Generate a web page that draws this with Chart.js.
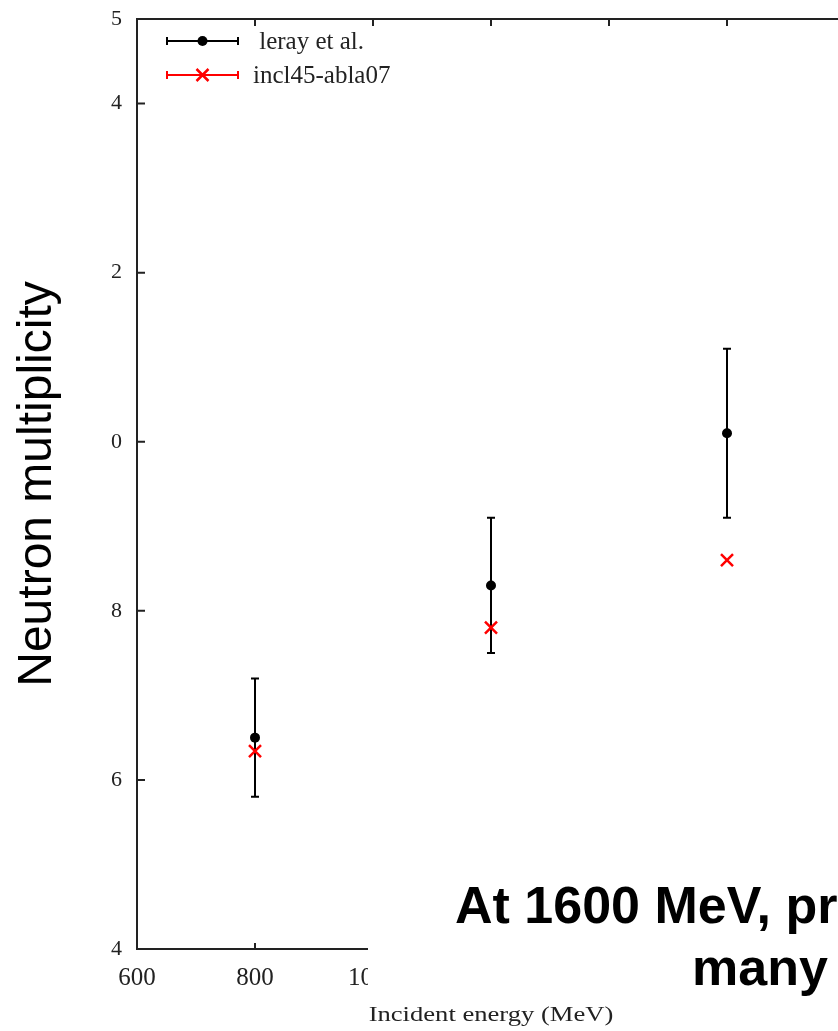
<!DOCTYPE html>
<html>
<head>
<meta charset="utf-8">
<script src="https://cdn.jsdelivr.net/npm/chart.js@4/dist/chart.umd.min.js"></script>
<style>
    html, body { margin: 0; padding: 0; overflow: hidden; background: #fff; }
    #wrap { position: relative; width: 900px; height: 1031px; }
    .note {
        position: absolute; left: 368px; top: 858px; width: 540px; height: 146px;
        background: #fff; color: #000;
        font: bold 52px 'Liberation Sans', Arial, sans-serif; line-height: 52px;
    }
    .note span { position: absolute; white-space: nowrap; }
    .note .l1 { left: 87px; top: 21px; }
    .note .l2 { left: 324px; top: 83px; }
</style>
</head>
<body>
<div id="wrap">
    <canvas id="chart"></canvas>
    <div class="note"><span class="l1">At 1600 MeV, pr</span><span class="l2">many</span></div>
</div>
<script>
// ===== Data =====
const energies = [800, 1200, 1600];
const lerayValues = [6.5, 8.3, 10.1];
const lerayErrors = [0.7, 0.8, 1.0];
const inclValues = [6.34, 7.8, 8.6];

const xTickValues = [600, 800, 1000, 1200, 1400, 1600, 1800];
const yTickValues = [4, 6, 8, 10, 12, 14, 15];
const yTickLabels = ['4', '6', '8', '0', '2', '4', '5'];

const seriesNames = [' leray et al.', 'incl45-abla07'];
const xTitle = 'Incident energy (MeV)';
const yTitle = 'Neutron multiplicity';

const SERIF = "'Liberation Serif', 'Times New Roman', serif";
const INK = '#222';

// ===== Plot frame, inner ticks, error bars and key =====
const framePlugin = {
    id: 'frame',

    // error bars go under the markers
    beforeDatasetsDraw(chart) {
        const { ctx, scales: { x, y } } = chart;
        ctx.save();
        ctx.strokeStyle = '#000';
        ctx.lineWidth = 2;
        energies.forEach((e, i) => {
            const px = x.getPixelForValue(e);
            const top = y.getPixelForValue(lerayValues[i] + lerayErrors[i]);
            const bot = y.getPixelForValue(lerayValues[i] - lerayErrors[i]);
            ctx.beginPath();
            ctx.moveTo(px, top); ctx.lineTo(px, bot);
            ctx.moveTo(px - 4, top); ctx.lineTo(px + 4, top);
            ctx.moveTo(px - 4, bot); ctx.lineTo(px + 4, bot);
            ctx.stroke();
        });
        ctx.restore();
    },

    afterDraw(chart) {
        const { ctx, chartArea: a, scales: { x, y } } = chart;
        ctx.save();

        // box round the plot
        ctx.strokeStyle = INK;
        ctx.lineWidth = 2;
        ctx.strokeRect(a.left, a.top, a.right - a.left, a.bottom - a.top);

        // ticks pointing inward; x ticks mirrored along the top
        ctx.beginPath();
        yTickValues.forEach(v => {
            const py = y.getPixelForValue(v);
            ctx.moveTo(a.left, py); ctx.lineTo(a.left + 8, py);
        });
        xTickValues.forEach(v => {
            const px = x.getPixelForValue(v);
            ctx.moveTo(px, a.bottom); ctx.lineTo(px, a.bottom - 6);
            ctx.moveTo(px, a.top); ctx.lineTo(px, a.top + 7);
        });
        ctx.stroke();

        // key, top left
        const kx0 = a.left + 30, kx1 = a.left + 101, kc = (kx0 + kx1) / 2;
        const rows = [a.top + 22, a.top + 56];
        const colors = ['#000', '#ff0000'];
        rows.forEach((ky, i) => {
            ctx.strokeStyle = colors[i];
            ctx.lineWidth = 2;
            ctx.beginPath();
            ctx.moveTo(kx0, ky); ctx.lineTo(kx1, ky);
            ctx.moveTo(kx0, ky - 4); ctx.lineTo(kx0, ky + 4);
            ctx.moveTo(kx1, ky - 4); ctx.lineTo(kx1, ky + 4);
            ctx.stroke();
            if (i === 0) {
                ctx.fillStyle = '#000';
                ctx.beginPath();
                ctx.arc(kc, ky, 5, 0, Math.PI * 2);
                ctx.fill();
            } else {
                ctx.lineWidth = 2.5;
                ctx.beginPath();
                ctx.moveTo(kc - 6, ky - 6); ctx.lineTo(kc + 6, ky + 6);
                ctx.moveTo(kc - 6, ky + 6); ctx.lineTo(kc + 6, ky - 6);
                ctx.stroke();
            }
            ctx.fillStyle = INK;
            ctx.font = '25px ' + SERIF;
            ctx.textBaseline = 'middle';
            ctx.textAlign = 'left';
            ctx.fillText(seriesNames[i], a.left + 116, ky + 1);
        });

        // x title, drawn a little wide
        ctx.translate((a.left + a.right) / 2, a.bottom + 72);
        ctx.scale(1.33, 1);
        ctx.fillStyle = INK;
        ctx.font = '20px ' + SERIF;
        ctx.textAlign = 'center';
        ctx.textBaseline = 'alphabetic';
        ctx.fillText(xTitle, 0, 0);

        ctx.restore();
    }
};

// label overhang is left to the layout padding
function noOverhang(s) {
    s.paddingTop = 0;
    s.paddingBottom = 0;
    s.paddingLeft = 0;
    s.paddingRight = 0;
}

const chart = new Chart(document.getElementById('chart'), {
    type: 'scatter',
    data: {
        datasets: [
            {
                label: seriesNames[0],
                data: energies.map((e, i) => ({ x: e, y: lerayValues[i] })),
                pointStyle: 'circle',
                pointRadius: 5,
                backgroundColor: '#000',
                borderColor: '#000',
                borderWidth: 0
            },
            {
                label: seriesNames[1],
                data: energies.map((e, i) => ({ x: e, y: inclValues[i] })),
                pointStyle: 'crossRot',
                pointRadius: 8.5,
                borderColor: '#ff0000',
                backgroundColor: '#ff0000',
                borderWidth: 2.5
            }
        ]
    },
    options: {
        responsive: true,
        maintainAspectRatio: false,
        animation: false,
        layout: { padding: { top: 19, right: 55, left: 0, bottom: 0 } },
        plugins: {
            legend: { display: false },
            tooltip: { enabled: false }
        },
        scales: {
            x: {
                type: 'linear',
                min: 600,
                max: 1800,
                afterBuildTicks: s => { s.ticks = xTickValues.map(v => ({ value: v })); },
                afterFit: s => { s.height = 82; noOverhang(s); },
                grid: { display: false, drawTicks: false },
                border: { display: false },
                ticks: {
                    padding: 14,
                    color: INK,
                    font: { family: SERIF, size: 25 },
                    callback: (v) => String(v)
                }
            },
            y: {
                min: 4,
                max: 15,
                afterBuildTicks: s => { s.ticks = yTickValues.map(v => ({ value: v })); },
                afterFit: s => { s.width = 137; noOverhang(s); },
                grid: { display: false, drawTicks: false },
                border: { display: false },
                ticks: {
                    padding: 15,
                    color: INK,
                    font: { family: SERIF, size: 22 },
                    callback: (v) => yTickLabels[yTickValues.indexOf(v)]
                },
                title: {
                    display: true,
                    text: yTitle,
                    color: '#000',
                    font: { family: "'Liberation Sans', Arial, sans-serif", size: 48, lineHeight: 1 },
                    padding: { top: 14, bottom: 0 }
                }
            }
        }
    },
    plugins: [framePlugin]
});
</script>
</body>
</html>
